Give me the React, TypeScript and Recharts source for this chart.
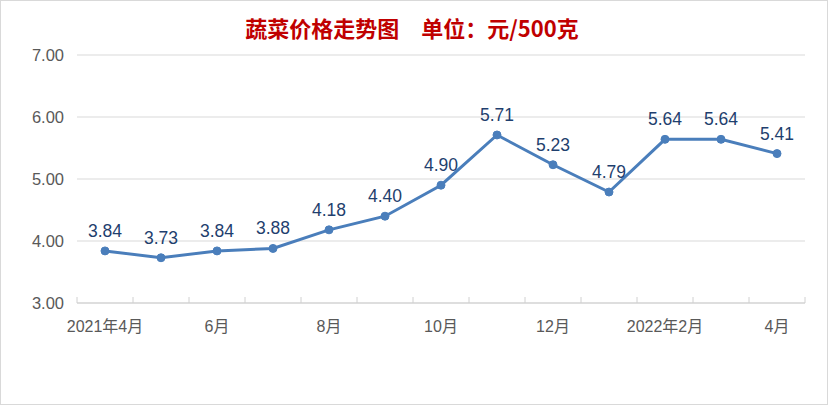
import React from 'react';
import { LineChart, Line, XAxis, YAxis, CartesianGrid, LabelList } from 'recharts';

const categories = ['2021年4月', '5月', '6月', '7月', '8月', '9月', '10月', '11月', '12月', '2022年1月', '2022年2月', '3月', '4月'];
const prices = [3.84, 3.73, 3.84, 3.88, 4.18, 4.40, 4.90, 5.71, 5.23, 4.79, 5.64, 5.64, 5.41];
const shownLabels = ['2021年4月', '6月', '8月', '10月', '12月', '2022年2月', '4月'];
const yTicks = [3, 4, 5, 6, 7];

const data = categories.map((c, i) => ({ month: c, price: prices[i] }));

const W = 828;
const H = 405;
const MARGIN = { top: 55, right: 23, bottom: 72, left: 0 };
const Y_WIDTH = 77;
const BAND = (W - MARGIN.left - MARGIN.right - Y_WIDTH) / categories.length;

const numFont = '"Liberation Sans", "Noto Sans CJK SC", sans-serif';

const XTick = (props: any) => {
  const { x, y, payload, index } = props;
  const label = payload.value as string;
  const isLast = index === categories.length - 1;
  return (
    <g>
      <line x1={x - BAND / 2} x2={x - BAND / 2} y1={y - 6} y2={y} stroke="#d0d0d0" strokeWidth={1} />
      {isLast && <line x1={x + BAND / 2} x2={x + BAND / 2} y1={y - 6} y2={y} stroke="#d0d0d0" strokeWidth={1} />}
      {shownLabels.includes(label) && (
        <text x={x} y={y + 29} textAnchor="middle" fill="#595959" fontSize={16} fontFamily={numFont}>
          {label}
        </text>
      )}
    </g>
  );
};

export default function App() {
  return (
    <div style={{ position: 'relative', width: W, height: H }}>
      <style>{'body{margin:0;}'}</style>
      <LineChart width={W} height={H} data={data} margin={MARGIN}>
        <text x={412} y={37} textAnchor="middle" fill="#c00000" fontSize={22} fontWeight="bold" fontFamily='"Noto Sans CJK SC", sans-serif'>
          蔬菜价格走势图　单位：元/500克
        </text>
        <CartesianGrid vertical={false} stroke="#d9d9d9" strokeWidth={1} />
        <XAxis
          dataKey="month"
          interval={0}
          padding={{ left: BAND / 2, right: BAND / 2 }}
          tickLine={false}
          tickSize={0}
          tickMargin={0}
          height={30}
          axisLine={{ stroke: '#d0d0d0', strokeWidth: 1 }}
          tick={<XTick />}
        />
        <YAxis
          domain={[3, 7]}
          ticks={yTicks}
          width={Y_WIDTH}
          axisLine={false}
          tickLine={false}
          tickSize={0}
          tickMargin={13}
          tickFormatter={(v: number) => v.toFixed(2)}
          tick={{ fill: '#595959', fontSize: 16.5, fontFamily: numFont }}
        />
        <Line
          type="linear"
          dataKey="price"
          stroke="#4a7ebb"
          strokeWidth={3}
          dot={{ r: 4, fill: '#4a7ebb', stroke: '#4a7ebb', strokeWidth: 1 }}
          isAnimationActive={false}
        >
          <LabelList
            dataKey="price"
            position="top"
            offset={14}
            fill="#1f3f6e"
            fontSize={17.5}
            fontFamily={numFont}
            formatter={(v: any) => Number(v).toFixed(2)}
          />
        </Line>
      </LineChart>
      <div style={{ position: 'absolute', left: 0, top: 0, width: W, height: H, boxSizing: 'border-box', border: '1px solid #d9d9d9', pointerEvents: 'none' }} />
    </div>
  );
}
